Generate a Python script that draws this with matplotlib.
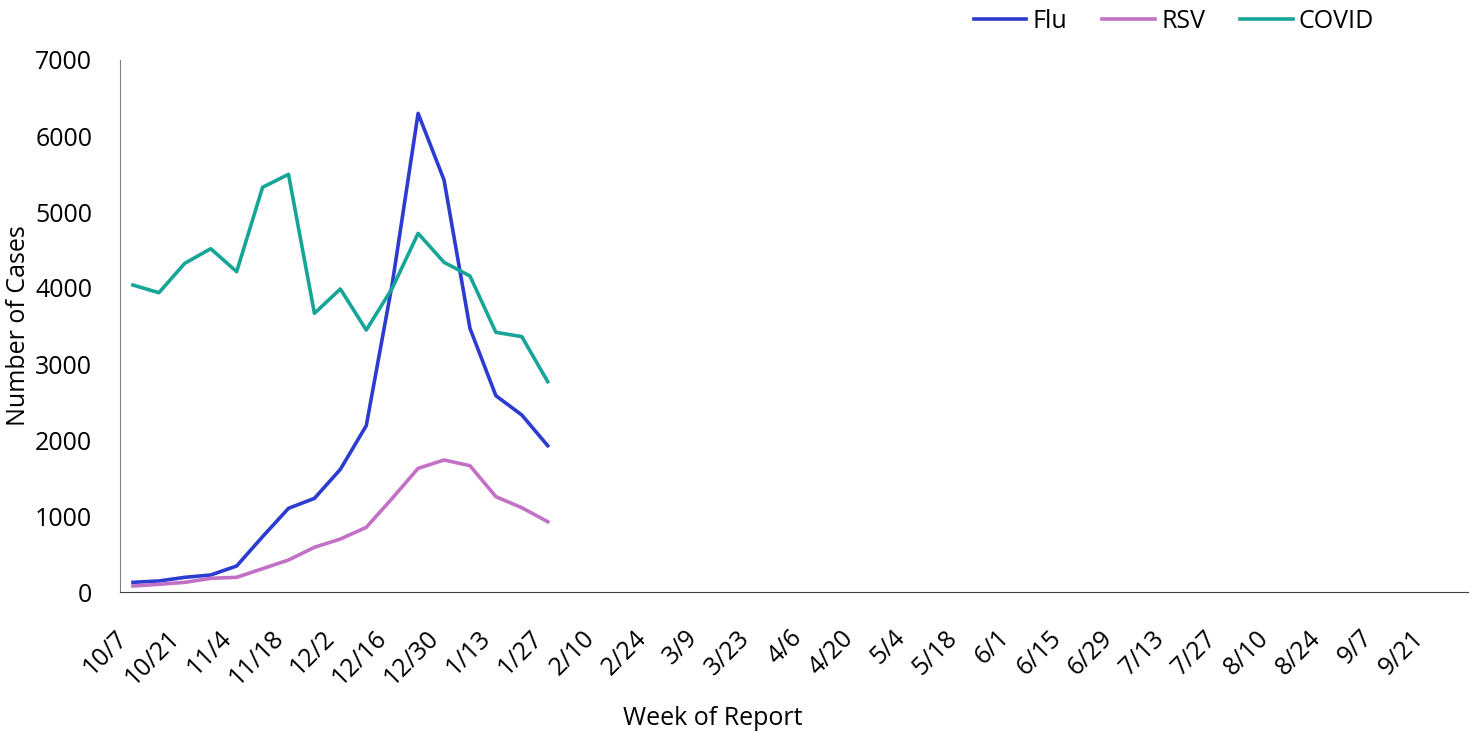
import matplotlib.pyplot as plt
import numpy as np

plt.rcParams['font.family'] = ['Open Sans', 'DejaVu Sans']
plt.rcParams['font.size'] = 18

# Weeks of the reporting season (one category per week)
weeks = ['10/7', '10/14', '10/21', '10/28', '11/4', '11/11', '11/18', '11/25',
         '12/2', '12/9', '12/16', '12/23', '12/30', '1/6', '1/13', '1/20',
         '1/27', '2/3', '2/10', '2/17', '2/24', '3/2', '3/9', '3/16', '3/23',
         '3/30', '4/6', '4/13', '4/20', '4/27', '5/4', '5/11', '5/18', '5/25',
         '6/1', '6/8', '6/15', '6/22', '6/29', '7/6', '7/13', '7/20', '7/27',
         '8/3', '8/10', '8/17', '8/24', '8/31', '9/7', '9/14', '9/21', '9/28']

# Weekly case counts reported so far (10/7 through 1/27)
flu = [127, 145, 193, 224, 342, 728, 1101, 1232, 1614, 2189, 4050, 6298,
       5421, 3469, 2583, 2329, 1925]
rsv = [79, 101, 127, 180, 193, 307, 421, 588, 697, 851, 1232, 1627,
       1737, 1662, 1254, 1109, 925]
covid = [4039, 3938, 4325, 4517, 4215, 5325, 5496, 3667, 3987, 3447, 3996,
         4719, 4338, 4158, 3417, 3360, 2768]

y_ticks = [0, 1000, 2000, 3000, 4000, 5000, 6000, 7000]

fig = plt.figure(figsize=(14.74, 7.32), dpi=100)
ax = fig.add_axes([120 / 1474, 1 - 592 / 732, 1348 / 1474, 532 / 732])

x = np.arange(len(flu))
ax.plot(x, flu, color='#2b3ccf', linewidth=2.6, label='Flu')
ax.plot(x, rsv, color='#c371c6', linewidth=2.6, label='RSV')
ax.plot(x, covid, color='#17a597', linewidth=2.6, label='COVID')

ax.set_xlim(-0.5, len(weeks) - 0.5)
ax.set_ylim(0, 7000)
ax.set_yticks(y_ticks)
ax.set_yticklabels([str(v) for v in y_ticks])

tick_pos = np.arange(0, len(weeks), 2)
ax.set_xticks(tick_pos)
ax.set_xticklabels([weeks[i] for i in tick_pos], rotation=45, ha='right')

ax.tick_params(axis='both', length=0, labelsize=18)
ax.tick_params(axis='x', pad=24)
ax.tick_params(axis='y', pad=20)

for side in ['top', 'right']:
    ax.spines[side].set_visible(False)
ax.spines['left'].set_color('#808080')
ax.spines['bottom'].set_color('#404040')

ax.set_xlabel('Week of Report', fontsize=18)
ax.xaxis.set_label_coords((713 - 120) / 1348, -0.215)
ax.set_ylabel('Number of Cases', fontsize=18)
ax.yaxis.set_label_coords(-0.066, 0.5)

fig.legend(loc='center', bbox_to_anchor=(1174 / 1474, 1 - 21 / 732), ncol=3,
           frameon=False, fontsize=18, handlelength=2.1, handletextpad=0.25,
           columnspacing=1.4)

fig.savefig('out.png', dpi=100)
